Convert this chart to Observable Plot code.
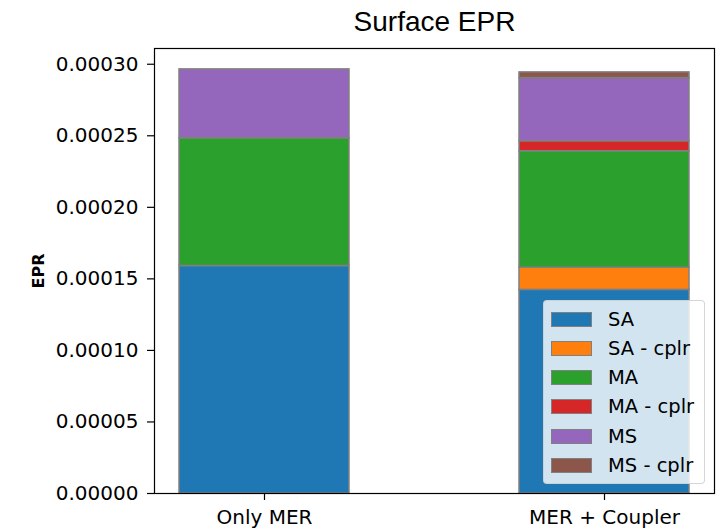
<!DOCTYPE html>
<html>
<head>
<meta charset="utf-8">
<script src="https://cdn.jsdelivr.net/npm/d3@7"></script>
<script src="https://cdn.jsdelivr.net/npm/@observablehq/plot@0.6"></script>
<style>
  html, body { margin: 0; padding: 0; background: #fff; }
  #wrap { position: relative; width: 725px; height: 529px; }
  #legend {
    position: absolute; left: 543px; top: 300px; width: 162px; height: 184px;
    background: rgba(255,255,255,0.8); border: 1px solid rgba(204,204,204,0.8);
    border-radius: 4px; box-sizing: border-box;
    font-family: "DejaVu Sans", sans-serif; font-size: 19.5px; color: #000;
  }
  .row { position: absolute; left: 7px; height: 20px; display: flex; align-items: center; }
  .sw { width: 41px; height: 15px; box-sizing: border-box; border: 1.5px solid #808080; margin-right: 16px; }
</style>
</head>
<body>
<div id="wrap"></div>
<script>
const configs = ["Only MER", "MER + Coupler"];
const series = ["SA", "SA - cplr", "MA", "MA - cplr", "MS", "MS - cplr"];
const onlyMER = [0.000159, 0, 0.0000893, 0, 0.0000481, 0];
const merCoupler = [0.0001423, 0.0000155, 0.0000814, 0.0000070, 0.0000441, 0.0000040];
const colors = ["#1f77b4", "#ff7f0e", "#2ca02c", "#d62728", "#9467bd", "#8c564b"];
const yTicks = [0, 0.00005, 0.0001, 0.00015, 0.0002, 0.00025, 0.0003];

const data = [];
[onlyMER, merCoupler].forEach((vals, ci) => {
  vals.forEach((v, si) => data.push({config: configs[ci], series: series[si], value: v}));
});

const chart = Plot.plot({
  width: 725,
  height: 529,
  marginLeft: 154,
  marginRight: 11,
  marginTop: 48,
  marginBottom: 36,
  style: {fontFamily: "DejaVu Sans", fontSize: "20px", color: "#000", background: "#fff"},
  x: {type: "band", domain: configs, paddingInner: 0.5, paddingOuter: 0.0735, label: null},
  y: {domain: [0, 0.000311], label: null},
  color: {domain: series, range: colors},
  marks: [
    Plot.barY(data, {x: "config", y: "value", fill: "series", stroke: "#808080", strokeWidth: 1.5, inset: 0, order: null}),
    Plot.frame({stroke: "#000", strokeWidth: 1.2}),
    Plot.axisY({ticks: yTicks, tickFormat: d => d.toFixed(5), tickSize: 7, tickPadding: 9, label: null, strokeWidth: 1.2}),
    Plot.axisX({tickSize: 7, tickPadding: 9, label: null, strokeWidth: 1.2}),
    Plot.text(["Surface EPR"], {text: d => d, frameAnchor: "top", dy: -26, fontSize: 28, fontFamily: "Liberation Sans", lineAnchor: "middle"}),
    Plot.text(["EPR"], {text: d => d, frameAnchor: "left", dx: -116, rotate: -90, fontSize: 16, fontWeight: "bold", lineAnchor: "middle", textAnchor: "middle"})
  ]
});

const wrap = document.getElementById("wrap");
wrap.appendChild(chart);

const legend = document.createElement("div");
legend.id = "legend";
series.forEach((s, i) => {
  const row = document.createElement("div");
  row.className = "row";
  row.style.top = (8 + i * 29.3) + "px";
  const sw = document.createElement("div");
  sw.className = "sw";
  sw.style.background = colors[i];
  const lab = document.createElement("span");
  lab.textContent = s;
  row.appendChild(sw);
  row.appendChild(lab);
  legend.appendChild(row);
});
wrap.appendChild(legend);
</script>
</body>
</html>
